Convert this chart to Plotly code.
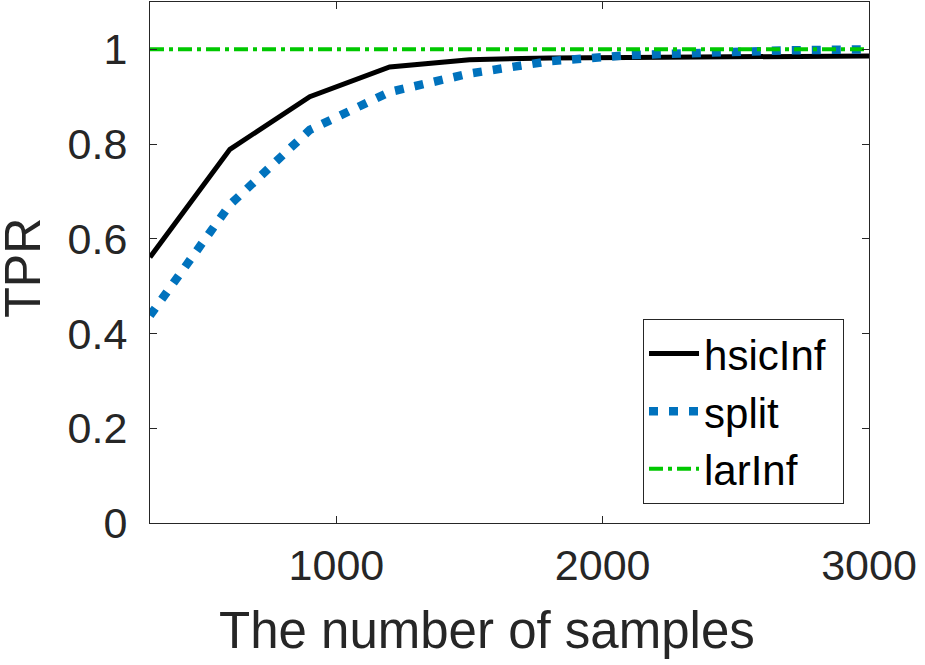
import plotly.graph_objects as go

# TPR vs number of samples
n_samples = [300, 600, 900, 1200, 1500, 1800, 2100, 2400, 2700, 3000]
hsic_inf = [0.561, 0.789, 0.900, 0.963, 0.978, 0.982, 0.983, 0.984, 0.985, 0.986]
split = [0.438, 0.672, 0.830, 0.910, 0.949, 0.975, 0.988, 0.995, 0.998, 1.000]
lar_inf = [1.0, 1.0, 1.0, 1.0, 1.0, 1.0, 1.0, 1.0, 1.0, 1.0]

x_ticks = [1000, 2000, 3000]
y_ticks = [0, 0.2, 0.4, 0.6, 0.8, 1]

txt = "#262626"
font = "Liberation Sans, Arial, Helvetica, sans-serif"

fig = go.Figure()
# trailing nbsp just pads the legend box on the right like the original
fig.add_trace(go.Scatter(x=n_samples, y=hsic_inf, name="hsicInf\u00a0", mode="lines",
                         line=dict(color="black", width=5)))
fig.add_trace(go.Scatter(x=n_samples, y=split, name="split", mode="lines",
                         line=dict(color="#0072BD", width=8.5, dash="9px,11px")))
fig.add_trace(go.Scatter(x=n_samples, y=lar_inf, name="larInf", mode="lines",
                         line=dict(color="#00C800", width=4, dash="14px,5px,4px,5px")))

axis_style = dict(showline=True, linecolor=txt, linewidth=1, mirror="ticks",
                  ticks="inside", ticklen=7, tickcolor=txt, showgrid=False,
                  zeroline=False, tickfont=dict(size=43, color=txt, family=font))

fig.update_xaxes(range=[300, 3000], tickvals=x_ticks, ticktext=[str(v) for v in x_ticks],
                 ticklabelstandoff=4, **axis_style)
fig.update_yaxes(range=[0, 1.1], tickvals=y_ticks, ticktext=[f"{v:g}" for v in y_ticks],
                 ticklabelstandoff=13, **axis_style)

fig.add_annotation(text="The number of samples", xref="paper", yref="paper",
                   x=0.469, y=0, yshift=-77, xanchor="center", yanchor="top",
                   showarrow=False, font=dict(size=51, color=txt, family=font))
fig.add_annotation(text="TPR", xref="paper", yref="paper", textangle=-90,
                   x=0, xshift=-127, y=0.49, xanchor="center", yanchor="middle",
                   showarrow=False, font=dict(size=50, color=txt, family=font))

fig.update_layout(
    width=925, height=665,
    margin=dict(l=150, r=56, t=2, b=142),
    plot_bgcolor="white", paper_bgcolor="white",
    font=dict(family=font, color=txt),
    legend=dict(x=0.6857, y=0.392, xanchor="left", yanchor="top",
                bgcolor="white", bordercolor=txt, borderwidth=1,
                font=dict(size=42, color="black", family=font),
                itemwidth=50, tracegroupgap=0),
)

fig.write_html("out.html", config={"displayModeBar": False},
               post_script="document.body.style.margin='0';")
